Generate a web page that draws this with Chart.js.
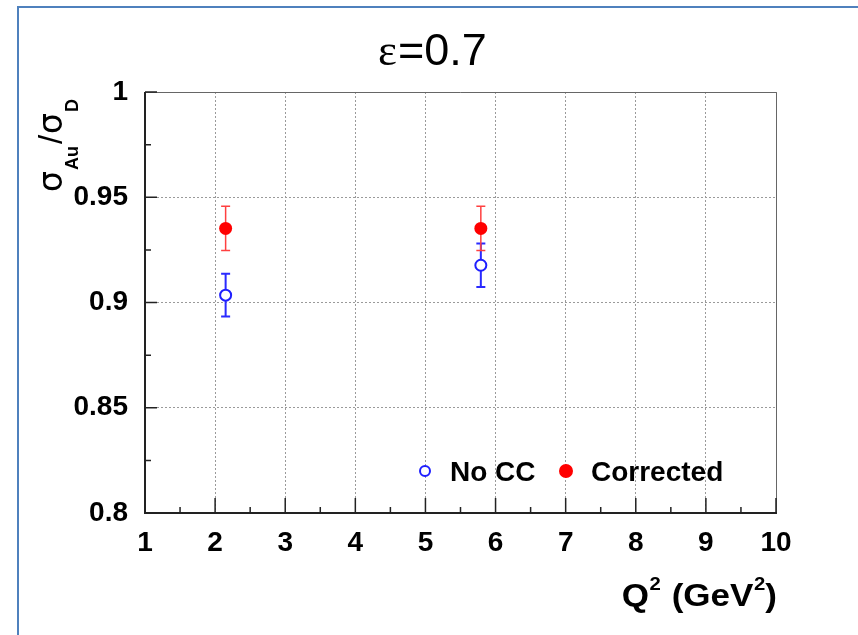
<!DOCTYPE html>
<html>
<head>
<meta charset="utf-8">
<script src="https://cdn.jsdelivr.net/npm/chart.js@4.4.1/dist/chart.umd.min.js"></script>
<style>
  html, body { margin: 0; padding: 0; background: #fff; }
  canvas { display: block; }
</style>
</head>
<body>
<canvas id="ratio" width="858" height="635"></canvas>
<script>
// Au/D cross-section ratio vs Q^2, eps = 0.7
const q2 = [2.15, 5.79];
const noCC = [0.9035, 0.9177];
const noCCErr = [0.0102, 0.0103];
const corrected = [0.9352, 0.9352];
const correctedErr = [0.0105, 0.0105];

const xTicks = [1, 2, 3, 4, 5, 6, 7, 8, 9, 10];
const xMinor = [1.5, 2.5, 3.5, 4.5, 5.5, 6.5, 7.5, 8.5, 9.5];
const yTicks = [0.8, 0.85, 0.9, 0.95, 1];
const yMinor = [0.825, 0.875, 0.925, 0.975];

const SANS = '"Liberation Sans", Arial, Helvetica, sans-serif';
const GREEK = '"DejaVu Sans", sans-serif';
const errors = [noCCErr, correctedErr];

// draw a list of text pieces one after another, return total advance
function runs(ctx, parts, x, y, dryRun) {
  let cx = x;
  for (const p of parts) {
    ctx.font = p.font;
    if (!dryRun) ctx.fillText(p.text, cx, y + (p.dy || 0));
    cx += ctx.measureText(p.text).width + (p.gap || 0);
  }
  return cx - x;
}

const decor = {
  id: 'decor',
  beforeDraw(chart) {
    const ctx = chart.ctx;
    ctx.save();
    ctx.fillStyle = '#fff';
    ctx.fillRect(0, 0, chart.width, chart.height);
    // slide frame
    ctx.strokeStyle = '#4f81bd';
    ctx.lineWidth = 2;
    ctx.beginPath();
    ctx.moveTo(18, chart.height);
    ctx.lineTo(18, 7);
    ctx.lineTo(chart.width, 7);
    ctx.stroke();
    // title
    ctx.fillStyle = '#000';
    ctx.textBaseline = 'alphabetic';
    runs(ctx, [
      { text: 'ε', font: '45px "Liberation Serif", "Times New Roman", serif', gap: 1 },
      { text: '=0.7', font: '45px ' + SANS }
    ], 378, 65);
    ctx.restore();
  },
  beforeDatasetsDraw(chart) {
    const ctx = chart.ctx;
    const xs = chart.scales.x, ys = chart.scales.y;
    ctx.save();
    chart.data.datasets.forEach((ds, i) => {
      const err = errors[i];
      ctx.strokeStyle = ds.barColor;
      ctx.lineWidth = ds.barWidth;
      ds.data.forEach((pt, j) => {
        const px = xs.getPixelForValue(pt.x);
        const top = ys.getPixelForValue(pt.y + err[j]);
        const bot = ys.getPixelForValue(pt.y - err[j]);
        ctx.beginPath();
        ctx.moveTo(px, top); ctx.lineTo(px, bot);
        ctx.moveTo(px - 4.5, top); ctx.lineTo(px + 4.5, top);
        ctx.moveTo(px - 4.5, bot); ctx.lineTo(px + 4.5, bot);
        ctx.stroke();
      });
    });
    ctx.restore();
  },
  afterDraw(chart) {
    const ctx = chart.ctx;
    const a = chart.chartArea;
    const xs = chart.scales.x, ys = chart.scales.y;
    ctx.save();
    // box
    ctx.strokeStyle = '#666';
    ctx.lineWidth = 1;
    ctx.beginPath();
    ctx.moveTo(a.left, a.top + 0.5); ctx.lineTo(a.right + 0.5, a.top + 0.5);
    ctx.lineTo(a.right + 0.5, a.bottom);
    ctx.stroke();
    ctx.strokeStyle = '#222';
    ctx.lineWidth = 2;
    ctx.beginPath();
    ctx.moveTo(a.left, a.top); ctx.lineTo(a.left, a.bottom); ctx.lineTo(a.right + 1, a.bottom);
    ctx.stroke();
    // inward ticks
    ctx.lineWidth = 1.5;
    ctx.beginPath();
    xTicks.forEach(v => { const p = xs.getPixelForValue(v); ctx.moveTo(p, a.bottom); ctx.lineTo(p, a.bottom - 15); });
    xMinor.forEach(v => { const p = xs.getPixelForValue(v); ctx.moveTo(p, a.bottom); ctx.lineTo(p, a.bottom - 6); });
    yTicks.forEach(v => { const p = ys.getPixelForValue(v); ctx.moveTo(a.left, p); ctx.lineTo(a.left + 12, p); });
    yMinor.forEach(v => { const p = ys.getPixelForValue(v); ctx.moveTo(a.left, p); ctx.lineTo(a.left + 6, p); });
    ctx.stroke();

    ctx.fillStyle = '#000';
    ctx.textBaseline = 'alphabetic';
    // x title, right aligned to the frame, slightly widened
    const stretch = 1.13;
    const xt = [
      { text: 'Q', font: 'bold 31px ' + SANS, gap: 0.5 },
      { text: '2', font: 'bold 18px ' + SANS, dy: -16, gap: 1 },
      { text: ' (GeV', font: 'bold 31px ' + SANS, gap: 0.5 },
      { text: '2', font: 'bold 18px ' + SANS, dy: -16 },
      { text: ')', font: 'bold 31px ' + SANS }
    ];
    const w = runs(ctx, xt, 0, 0, true) * stretch;
    ctx.save();
    ctx.translate(a.right + 1 - w, 606);
    ctx.scale(stretch, 1);
    runs(ctx, xt, 0, 0);
    ctx.restore();

    // y title, rotated
    ctx.save();
    ctx.translate(62, 192);
    ctx.rotate(-Math.PI / 2);
    runs(ctx, [
      { text: 'σ', font: '33px ' + GREEK, gap: 1 },
      { text: 'Au', font: 'bold 18px ' + SANS, dy: 16, gap: 2 },
      { text: '/', font: '33px ' + SANS, gap: 1 },
      { text: 'σ', font: '33px ' + GREEK, gap: 1 },
      { text: 'D', font: 'bold 18px ' + SANS, dy: 16 }
    ], 0, 0);
    ctx.restore();

    // legend
    const ly = 471;
    const items = [{ ds: chart.data.datasets[0], x: 425 }, { ds: chart.data.datasets[1], x: 566 }];
    items.forEach(it => {
      ctx.beginPath();
      ctx.arc(it.x, ly, it.ds.pointRadius - 0.5, 0, Math.PI * 2);
      ctx.fillStyle = it.ds.pointBackgroundColor;
      ctx.fill();
      ctx.lineWidth = it.ds.pointBorderWidth;
      ctx.strokeStyle = it.ds.pointBorderColor;
      ctx.stroke();
      ctx.fillStyle = '#000';
      ctx.font = 'bold 28px ' + SANS;
      ctx.fillText(it.ds.label, it.x + 25, ly + 10);
    });
    ctx.restore();
  }
};

new Chart(document.getElementById('ratio'), {
  type: 'scatter',
  data: {
    datasets: [
      {
        label: 'No CC',
        data: q2.map((x, i) => ({ x, y: noCC[i] })),
        pointRadius: 5.5,
        pointHoverRadius: 5.5,
        pointBorderWidth: 2,
        pointBorderColor: '#1f1fff',
        pointBackgroundColor: '#fff',
        barColor: '#2a2aff',
        barWidth: 2
      },
      {
        label: 'Corrected',
        data: q2.map((x, i) => ({ x, y: corrected[i] })),
        pointRadius: 6.5,
        pointHoverRadius: 6.5,
        pointBorderWidth: 0,
        pointBorderColor: '#ff0000',
        pointBackgroundColor: '#ff0000',
        barColor: '#ff4040',
        barWidth: 1.5
      }
    ]
  },
  options: {
    responsive: false,
    animation: false,
    events: [],
    layout: { padding: { top: 92, right: 82, left: 0, bottom: 0 } },
    plugins: { legend: { display: false }, tooltip: { enabled: false } },
    scales: {
      x: {
        type: 'linear',
        min: 1,
        max: 10,
        afterBuildTicks: s => { s.ticks = xTicks.map(v => ({ value: v })); },
        afterFit: s => { s.height = 122; },
        ticks: {
          color: '#000',
          font: { family: SANS, size: 28, weight: 'bold' },
          padding: 13,
          maxRotation: 0,
          autoSkip: false
        },
        grid: { color: '#9a9a9a', lineWidth: 1, drawTicks: false },
        border: { display: false, dash: [2, 2] }
      },
      y: {
        type: 'linear',
        min: 0.8,
        max: 1,
        afterBuildTicks: s => { s.ticks = yTicks.map(v => ({ value: v })); },
        afterFit: s => { s.width = 145; },
        ticks: {
          color: '#000',
          font: { family: SANS, size: 28, weight: 'bold' },
          padding: 17,
          callback: v => String(Number(v.toFixed(3)))
        },
        grid: { color: '#9a9a9a', lineWidth: 1, drawTicks: false },
        border: { display: false, dash: [2, 2] }
      }
    }
  },
  plugins: [decor]
});
</script>
</body>
</html>
